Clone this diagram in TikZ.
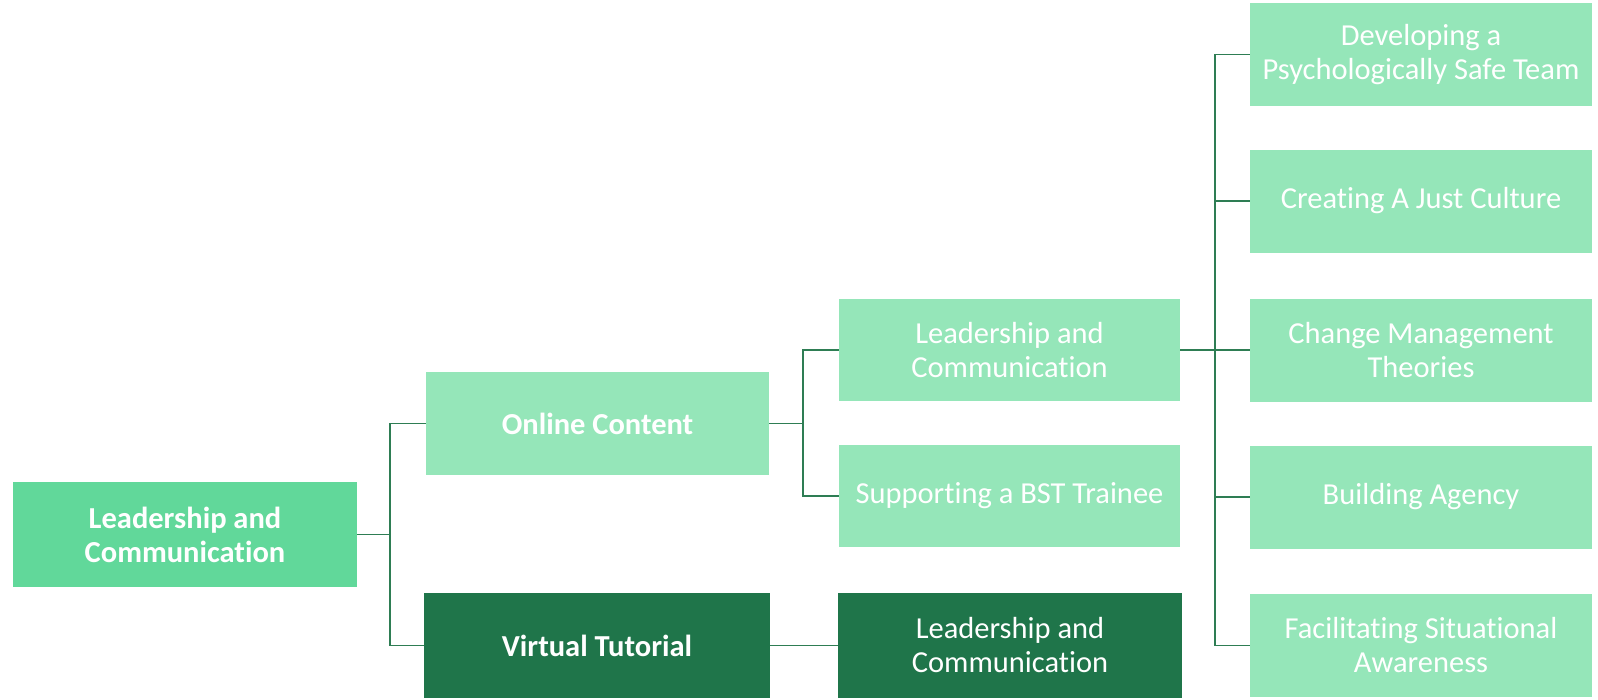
\documentclass[tikz,border=0pt]{standalone}
\usepackage{fontspec}
\setmainfont{Carlito}[Ligatures=NoCommon]
\definecolor{lightg}{HTML}{95E6B9}
\definecolor{midg}{HTML}{61D89A}
\definecolor{darkg}{HTML}{1F754A}
\definecolor{lineg}{HTML}{2E7D54}
\begin{document}
\begin{tikzpicture}[x=1pt,y=-1pt,
  box/.style={rectangle,inner sep=0pt,align=center,text=white,
    font=\fontsize{30.5}{34}\selectfont,minimum width=342pt,minimum height=103pt},
  lbox/.style={box,fill=lightg},
  conn/.style={draw=lineg,line width=1.6pt}]
\useasboundingbox (0,0) rectangle (1598,699);
% level 0
\node[box,fill=midg,font=\fontsize{30.5}{34}\selectfont\bfseries,minimum width=344pt,minimum height=105pt] (root) at (185,534.5) {Leadership and\\Communication};
% level 1
\node[lbox,font=\fontsize{30.5}{34}\selectfont\bfseries,minimum width=343pt] (oc) at (597.5,423.5) {Online Content};
\node[box,fill=darkg,font=\fontsize{30.5}{34}\selectfont\bfseries,minimum width=346pt,minimum height=105pt] (vt) at (597,645.5) {Virtual Tutorial};
% level 2
\node[lbox,minimum width=341pt,minimum height=102pt] (lc) at (1009.5,350) {Leadership and\\Communication};
\node[lbox,minimum width=341pt,minimum height=102pt] (st) at (1009.5,496) {Supporting a BST Trainee};
\node[box,fill=darkg,minimum width=344pt,minimum height=105pt] (lcd) at (1010,645.5) {Leadership and\\Communication};
% level 3
\node[lbox] (dp) at (1421,54.5) {Developing a\\Psychologically Safe Team};
\node[lbox] (cj) at (1421,201) {Creating A Just Culture};
\node[lbox] (cm) at (1421,350) {Change Management\\Theories};
\node[lbox] (ba) at (1421,497) {Building Agency};
\node[lbox] (fs) at (1421,645.5) {Facilitating Situational\\Awareness};
% connectors
\coordinate (f0) at (390,534.5);
\coordinate (f1) at (803,423.5);
\coordinate (f2) at (1215,350);
\draw[conn] (root.east) -- (f0);
\draw[conn] (f0) |- (oc.west);
\draw[conn] (f0) |- (vt.west);
\draw[conn] (oc.east) -- (f1);
\draw[conn] (f1) |- (lc.west);
\draw[conn] (f1) |- (st.west);
\draw[conn] (vt.east) -- (lcd.west);
\draw[conn] (lc.east) -- (f2);
\draw[conn] (f2) |- (dp.west);
\draw[conn] (f2) |- (cj.west);
\draw[conn] (f2) -- (cm.west);
\draw[conn] (f2) |- (ba.west);
\draw[conn] (f2) |- (fs.west);
\end{tikzpicture}
\end{document}
